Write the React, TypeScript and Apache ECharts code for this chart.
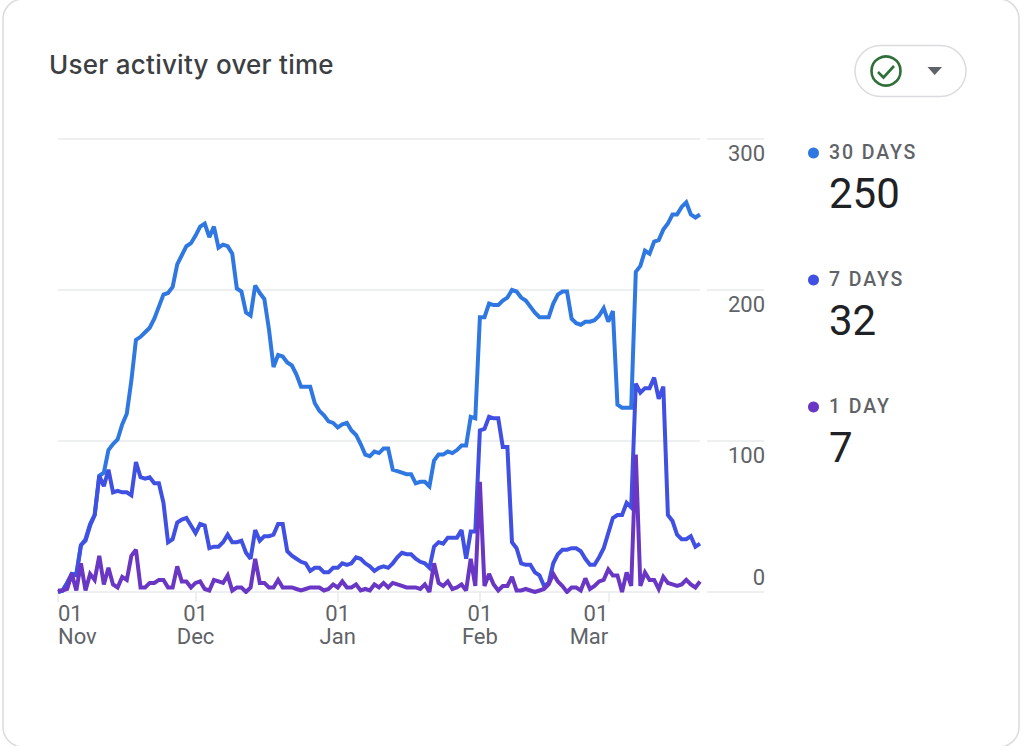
import React, { useEffect, useRef } from "react";
import * as echarts from "echarts";

const days30 = [0,1,6,12,12,31,35,45,51,77,79,94,98,101,111,118,140,167,169,172,175,181,189,197,198,202,217,223,229,231,236,242,244,235,242,228,230,229,224,201,199,185,183,203,198,194,174,149,157,156,152,150,144,136,136,136,125,120,117,113,112,109,111,112,107,104,98,91,90,93,92,95,95,81,80,79,78,78,72,73,73,70,87,91,91,93,92,94,97,97,116,115,182,182,191,190,190,193,195,200,199,195,193,189,185,182,182,182,191,197,199,199,181,178,177,179,179,180,183,188,179,186,124,122,122,122,212,216,226,224,232,233,240,244,250,250,255,258,250,248,250];
const days7 = [0,1,6,12,11,31,34,44,51,77,70,81,66,67,66,66,64,86,76,75,76,72,72,59,33,35,46,48,49,44,39,45,44,29,30,30,33,38,33,33,34,26,22,41,34,37,37,38,45,45,27,24,22,20,19,14,16,16,13,13,16,16,19,18,19,23,22,19,17,14,16,17,16,19,23,26,25,25,22,20,19,16,30,33,32,36,36,36,41,22,40,40,107,108,116,115,115,96,96,33,29,19,18,18,13,11,4,6,19,25,28,28,29,29,27,22,18,18,23,29,39,49,51,51,59,56,138,132,135,135,142,128,136,51,47,38,35,35,37,30,32];
const days1 = [1,1,2,12,1,19,1,12,8,24,5,16,5,3,10,8,24,28,3,3,6,6,8,8,3,3,17,7,7,3,6,7,2,1,8,7,6,11,1,3,3,0,3,22,6,6,3,3,8,3,3,3,2,1,2,3,3,3,1,2,5,3,7,3,3,5,1,2,1,5,3,6,3,6,5,4,3,3,3,2,5,0,19,6,4,7,2,3,5,1,22,4,73,4,12,5,1,4,4,10,1,1,2,1,0,1,2,5,12,7,4,0,3,3,1,9,2,4,7,8,15,11,11,0,13,4,91,4,13,8,8,2,10,6,5,4,5,8,5,3,7];

const monthLengths = [["Nov", 30], ["Dec", 31], ["Jan", 31], ["Feb", 28], ["Mar", 21]] as const;
const seriesNames = ["30 DAYS", "7 DAYS", "1 DAY"];
const latestValues = ["250", "32", "7"];
const seriesColors = ["#2f78e2", "#4050e3", "#6a36c4"];
const yTicks = { min: 0, max: 300, interval: 100 };
const titleText = "User activity over time";

const categories: any[] = [];
const firstIndexes: number[] = [];
monthLengths.forEach(([m, n]) => {
  for (let d = 1; d <= n; d++) {
    if (d === 1) firstIndexes.push(categories.length);
    const item: any = { value: `${String(d).padStart(2, "0")}\n${m}` };
    if (d === 1 && m === "Nov") item.textStyle = { align: "left" };
    if (d === 1 && m === "Mar") item.textStyle = { align: "right" };
    categories.push(item);
  }
});

echarts.graphic.registerShape(
  "checkMark",
  echarts.graphic.extendPath("M-8 1 L-2.5 6.5 L8 -5", {}) as any
);

const FONT = "Roboto";

export default function App() {
  const ref = useRef<HTMLDivElement>(null);
  useEffect(() => {
    document.body.style.margin = "0";
    const chart = echarts.init(ref.current!, null, { renderer: "svg" });
    const legend: any[] = [];
    seriesNames.forEach((name, i) => {
      const top = 127 * i;
      legend.push(
        { type: "circle", z: 5, shape: { cx: 813.5, cy: 153 + top, r: 5.5 }, style: { fill: seriesColors[i] } },
        { type: "text", z: 5, x: 829, y: 152 + top, style: { text: name, font: `500 19.5px ${FONT}`, fill: "#5f6368", verticalAlign: "middle" } },
        { type: "text", z: 5, x: 829, y: 193 + top, style: { text: latestValues[i], font: `400 42px ${FONT}`, fill: "#202124", verticalAlign: "middle" } }
      );
    });
    chart.setOption({
      animation: false,
      backgroundColor: "#fff",
      grid: [
        { left: 58, top: 139, width: 642, height: 453 },
        { left: 707, top: 139, width: 57, height: 453 },
      ],
      xAxis: [
        {
          type: "category",
          gridIndex: 0,
          data: categories,
          boundaryGap: false,
          axisLine: { show: false },
          axisTick: {
            length: 10,
            lineStyle: { color: "#e8eaed", width: 1.5 },
            interval: (i: number) => firstIndexes.includes(i),
          },
          axisLabel: {
            interval: (i: number) => firstIndexes.includes(i),
            hideOverlap: false,
            showMinLabel: true,
            margin: 10,
            color: "#5f6368",
            fontFamily: FONT,
            fontSize: 22,
            lineHeight: 23,
          },
          splitLine: { show: false },
        },
        { type: "value", gridIndex: 1, show: false },
      ],
      yAxis: [
        {
          type: "value",
          gridIndex: 0,
          ...yTicks,
          axisLabel: { show: false },
          axisLine: { show: false },
          axisTick: { show: false },
          splitLine: { lineStyle: { color: "#e8eaed", width: 1.5 } },
        },
        {
          type: "value",
          gridIndex: 1,
          position: "right",
          ...yTicks,
          axisLine: { show: false },
          axisTick: { show: false },
          splitLine: { lineStyle: { color: "#e8eaed", width: 1.5 } },
          axisLabel: {
            inside: true,
            margin: -1,
            color: "#5f6368",
            fontFamily: FONT,
            fontSize: 22,
            verticalAlign: "top",
            verticalAlignMinLabel: "bottom",
            padding: [3, 0, 4, 0],
          },
        },
      ],
      series: [days30, days7, days1].map((data, i) => ({
        name: seriesNames[i],
        type: "line",
        xAxisIndex: 0,
        yAxisIndex: 0,
        data,
        symbol: "none",
        smooth: false,
        lineStyle: { color: seriesColors[i], width: 4, join: "miter", miterLimit: 2.5 },
        z: 2 + i,
      })),
      graphic: [
        { type: "rect", z: -10, silent: true, shape: { x: 3, y: -1, width: 1016, height: 748, r: 20 }, style: { fill: "#fff", stroke: "#dadce0", lineWidth: 1.5 } },
        { type: "text", x: 49, y: 64, style: { text: titleText, font: `500 26px Inter`, fill: "#3c4043", verticalAlign: "middle" } },
        { type: "rect", shape: { x: 855, y: 45.5, width: 111, height: 51, r: 25.5 }, style: { fill: "#fff", stroke: "#dadce0", lineWidth: 1.5 } },
        { type: "circle", shape: { cx: 886, cy: 71, r: 14.5 }, style: { fill: "none", stroke: "#2f7038", lineWidth: 2.6 } },
        { type: "checkMark", x: 886, y: 71, style: { fill: "none", stroke: "#2f7038", lineWidth: 2.6 } },
        { type: "polygon", shape: { points: [[927.5, 67], [942, 67], [934.7, 75]] }, style: { fill: "#5f6368" } },
        ...legend,
      ],
    });
    // the captions and title are letter-spaced in the reference
    ref.current!.querySelectorAll("text").forEach((t) => {
      const s = t.textContent || "";
      if (seriesNames.includes(s)) (t as SVGTextElement).style.letterSpacing = "1.9px";
      if (s === titleText) (t as SVGTextElement).style.letterSpacing = "0.25px";
    });
    return () => chart.dispose();
  }, []);
  return <div ref={ref} style={{ position: "fixed", left: 0, top: 0, width: 1024, height: 746 }} />;
}
